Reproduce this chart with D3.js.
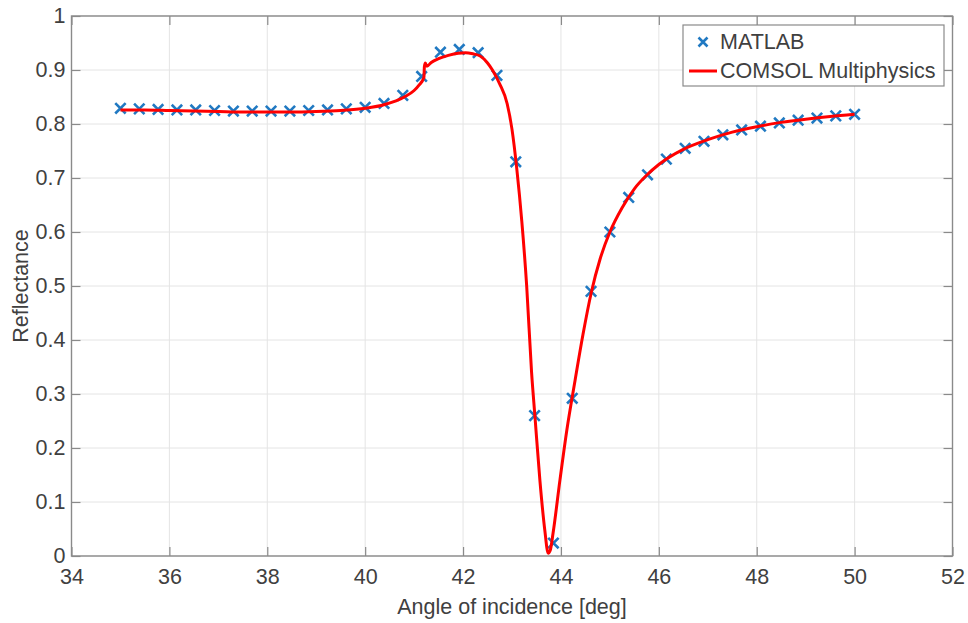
<!DOCTYPE html>
<html>
<head>
<meta charset="utf-8">
<script src="https://cdnjs.cloudflare.com/ajax/libs/d3/7.8.5/d3.min.js"></script>
<style>
  body { margin: 0; background: #fff; }
  text { font-family: "Liberation Sans", Arial, sans-serif; fill: #404040; }
</style>
</head>
<body>
<div id="chart"></div>
<script>
// MATLAB samples (blue crosses)
var matlabX = [35, 35.385, 35.769, 36.154, 36.538, 36.923, 37.308, 37.692, 38.077, 38.462,
               38.846, 39.231, 39.615, 40, 40.385, 40.769, 41.154, 41.538, 41.923, 42.308,
               42.692, 43.077, 43.462, 43.846, 44.231, 44.615, 45, 45.385, 45.769, 46.154,
               46.538, 46.923, 47.308, 47.692, 48.077, 48.462, 48.846, 49.231, 49.615, 50];
var matlabY = [0.829, 0.828, 0.827, 0.826, 0.826, 0.825, 0.824, 0.824, 0.824, 0.824,
               0.825, 0.826, 0.828, 0.831, 0.838, 0.853, 0.888, 0.933, 0.938, 0.932,
               0.890, 0.730, 0.260, 0.024, 0.292, 0.490, 0.600, 0.664, 0.706, 0.735,
               0.755, 0.768, 0.780, 0.789, 0.796, 0.802, 0.807, 0.811, 0.815, 0.818];

// COMSOL curve (red line)
var comsolX = [35, 35.5, 36, 36.5, 37, 37.5, 38, 38.5, 39, 39.5, 40, 40.4, 40.8, 41.0, 41.1, 41.2,
               41.21, 41.23, 41.26, 41.35, 41.5, 41.7, 41.9, 42.05, 42.2, 42.35, 42.5, 42.6, 42.75,
               42.9, 43.0, 43.1, 43.2, 43.3, 43.4, 43.47, 43.57, 43.67, 43.74, 43.78, 43.84, 43.98,
               44.12, 44.29, 44.45, 44.62, 44.8, 45.0, 45.25, 45.5, 45.75, 46, 46.5, 47, 47.5, 48,
               48.5, 49, 49.5, 50];
var comsolY = [0.826, 0.826, 0.825, 0.824, 0.823, 0.822, 0.822, 0.822, 0.823, 0.825, 0.829, 0.836, 0.85, 0.862, 0.872, 0.886,
               0.906, 0.913, 0.907, 0.914, 0.921, 0.927, 0.931, 0.932, 0.93, 0.926, 0.913, 0.9, 0.874,
               0.838, 0.79, 0.715, 0.62, 0.5, 0.34, 0.257, 0.14, 0.048, 0.005, 0.01, 0.043, 0.141,
               0.233, 0.326, 0.41, 0.488, 0.55, 0.6, 0.645, 0.68, 0.705, 0.725, 0.753, 0.771, 0.785, 0.795,
               0.803, 0.809, 0.814, 0.818];

var xTicks = [34, 36, 38, 40, 42, 44, 46, 48, 50, 52];
var yTicks = [0, 0.1, 0.2, 0.3, 0.4, 0.5, 0.6, 0.7, 0.8, 0.9, 1];

var W = 968, H = 623;
var margin = {top: 16, left: 71.5, right: 15.5, bottom: 67};
var width = W - margin.left - margin.right,
    height = H - margin.top - margin.bottom;
var fs = "21.5px";

var svg = d3.select("#chart").append("svg")
    .attr("width", W)
    .attr("height", H);

var g = svg.append("g")
    .attr("transform", "translate(" + margin.left + "," + margin.top + ")");

var x = d3.scaleLinear().domain([34, 52]).range([0, width]);
var y = d3.scaleLinear().domain([0, 1]).range([height, 0]);

// grid
g.selectAll("line.vgrid").data(xTicks).enter().append("line")
    .attr("x1", d => x(d)).attr("x2", d => x(d))
    .attr("y1", 0).attr("y2", height)
    .attr("stroke", "#e4e4e4").attr("stroke-width", 1);
g.selectAll("line.hgrid").data(yTicks).enter().append("line")
    .attr("y1", d => y(d)).attr("y2", d => y(d))
    .attr("x1", 0).attr("x2", width)
    .attr("stroke", "#e4e4e4").attr("stroke-width", 1);

// axes (ticks inward)
var axisColor = "#8a8a8a";
function styleAxis(sel) {
  sel.select(".domain").remove();
  sel.selectAll(".tick line").attr("stroke", axisColor).attr("stroke-width", 1.2);
  sel.selectAll(".tick text").style("font-size", fs).attr("fill", "#404040");
}
g.append("g").attr("transform", "translate(0," + height + ")")
    .call(d3.axisBottom(x).tickValues(xTicks).tickSize(-9).tickPadding(13))
    .call(styleAxis);
g.append("g")
    .call(d3.axisTop(x).tickValues(xTicks).tickSize(-9).tickFormat(""))
    .call(styleAxis);
g.append("g")
    .call(d3.axisLeft(y).tickValues(yTicks).tickSize(-9).tickPadding(6).tickFormat(d3.format("")))
    .call(styleAxis);
g.append("g").attr("transform", "translate(" + width + ",0)")
    .call(d3.axisRight(y).tickValues(yTicks).tickSize(-9).tickFormat(""))
    .call(styleAxis);

g.append("rect")
    .attr("width", width).attr("height", height)
    .attr("fill", "none").attr("stroke", axisColor).attr("stroke-width", 1.4);

// MATLAB crosses
var blue = "#2079c2";
function cross(sel, s) {
  sel.append("path")
    .attr("d", "M" + (-s) + "," + (-s) + "L" + s + "," + s + "M" + (-s) + "," + s + "L" + s + "," + (-s))
    .attr("stroke", blue).attr("stroke-width", 2.6).attr("fill", "none");
}
var pts = d3.range(matlabX.length).map(i => [matlabX[i], matlabY[i]]);
g.selectAll("g.mk").data(pts).enter().append("g")
    .attr("class", "mk")
    .attr("transform", d => "translate(" + x(d[0]) + "," + y(d[1]) + ")")
    .call(cross, 5.2);

// COMSOL line
var line = d3.line()
    .x(d => x(d[0])).y(d => y(d[1]))
    .curve(d3.curveMonotoneX);
g.append("path")
    .datum(d3.range(comsolX.length).map(i => [comsolX[i], comsolY[i]]))
    .attr("d", line)
    .attr("fill", "none").attr("stroke", "#ff0000").attr("stroke-width", 3);

// axis labels
svg.append("text")
    .attr("x", margin.left + width / 2).attr("y", 614)
    .attr("text-anchor", "middle").style("font-size", fs)
    .text("Angle of incidence [deg]");
svg.append("text")
    .attr("transform", "translate(28," + (margin.top + height / 2) + ") rotate(-90)")
    .attr("text-anchor", "middle").style("font-size", fs)
    .text("Reflectance");

// legend
var leg = svg.append("g").attr("transform", "translate(683,25)");
leg.append("rect").attr("width", 261).attr("height", 61)
    .attr("fill", "#fff").attr("stroke", "#8a8a8a").attr("stroke-width", 1.2);
leg.append("g").attr("transform", "translate(20,17)").call(cross, 4.5);
leg.append("text").attr("x", 37).attr("y", 24).style("font-size", fs).text("MATLAB");
leg.append("line").attr("x1", 6).attr("x2", 34).attr("y1", 46).attr("y2", 46)
    .attr("stroke", "#ff0000").attr("stroke-width", 3);
leg.append("text").attr("x", 37).attr("y", 53).style("font-size", fs).text("COMSOL Multiphysics");
</script>
</body>
</html>
